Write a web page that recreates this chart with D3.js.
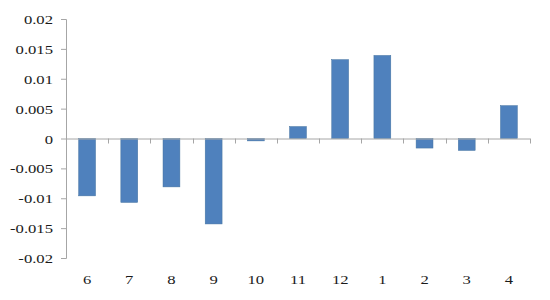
<!DOCTYPE html>
<html>
<head>
<meta charset="utf-8">
<script src="https://cdn.jsdelivr.net/npm/d3@7"></script>
<style>
  html, body { margin: 0; padding: 0; background: #fff; }
  svg { display: block; }
</style>
</head>
<body>
<svg id="chart" width="550" height="300"></svg>
<script>
const categories = ["6", "7", "8", "9", "10", "11", "12", "1", "2", "3", "4"];
const values = [-0.0096, -0.0107, -0.0081, -0.0143, -0.0004, 0.0020, 0.0132, 0.0139, -0.0016, -0.0020, 0.0055];
const yTicks = [-0.02, -0.015, -0.01, -0.005, 0, 0.005, 0.01, 0.015, 0.02];
const yTickLabels = ["-0.02", "-0.015", "-0.01", "-0.005", "0", "0.005", "0.01", "0.015", "0.02"];

(function () {
const svg = d3.select("#chart");
const mLeft = 66, mRight = 530, mTop = 19, mBottom = 258;
const axisColor = "#a6a6a6";
const fontFam = "'Liberation Serif', 'Times New Roman', Times, serif";
const sx = 1.28; // horizontal text stretch seen in reference

const xb = d3.scaleBand().domain(categories).range([mLeft, mRight]);
const y = d3.scaleLinear().domain([-0.02, 0.02]).range([mBottom, mTop]);

// bars
svg.append("g").selectAll("rect").data(values).join("rect")
  .attr("x", (d, i) => xb(categories[i]) + xb.bandwidth() / 2 - xb.bandwidth() * 0.2)
  .attr("width", xb.bandwidth() * 0.4)
  .attr("y", d => y(Math.max(0, d)))
  .attr("height", d => Math.abs(y(d) - y(0)))
  .attr("fill", "#4f81bd")
  .attr("stroke", "#44739f")
  .attr("stroke-width", 0.5);

// y axis
const yAxis = d3.axisLeft(y).tickValues(yTicks).tickSize(5).tickFormat((d, i) => yTickLabels[i]);
const gy = svg.append("g").attr("transform", `translate(${mLeft},0)`).call(yAxis);
gy.attr("font-family", null).attr("font-size", null);
gy.select(".domain").attr("stroke", axisColor).attr("d", `M-5,${mTop + 0.5}H0.5V${mBottom + 0.5}H-5`);
gy.selectAll(".tick line").attr("stroke", axisColor);
gy.selectAll(".tick text").remove();
gy.selectAll(".tick").append("text")
  .attr("text-anchor", "end")
  .attr("dy", "0.35em")
  .attr("font-size", 13)
  .attr("font-family", fontFam)
  .attr("fill", "#1a1a1a")
  .attr("transform", `translate(-13,0) scale(${sx},1)`)
  .text((d, i) => yTickLabels[i]);

// x axis at zero
const gx = svg.append("g").attr("transform", `translate(0,${y(0)})`);
gx.append("line").attr("x1", mLeft).attr("x2", mRight).attr("y1", 0.5).attr("y2", 0.5).attr("stroke", axisColor);
const bounds = categories.map(c => xb(c)).concat([mRight]);
gx.selectAll("line.tk").data(bounds).join("line").attr("class", "tk")
  .attr("x1", d => Math.round(d) + 0.5).attr("x2", d => Math.round(d) + 0.5)
  .attr("y1", 0).attr("y2", 5).attr("stroke", axisColor);

// category labels
svg.append("g").selectAll("text").data(categories).join("text")
  .attr("text-anchor", "middle")
  .attr("font-size", 13)
  .attr("font-family", fontFam)
  .attr("fill", "#1a1a1a")
  .attr("transform", d => `translate(${xb(d) + xb.bandwidth() / 2},284) scale(${sx},1)`)
  .text(d => d);
})();
</script>
</body>
</html>
